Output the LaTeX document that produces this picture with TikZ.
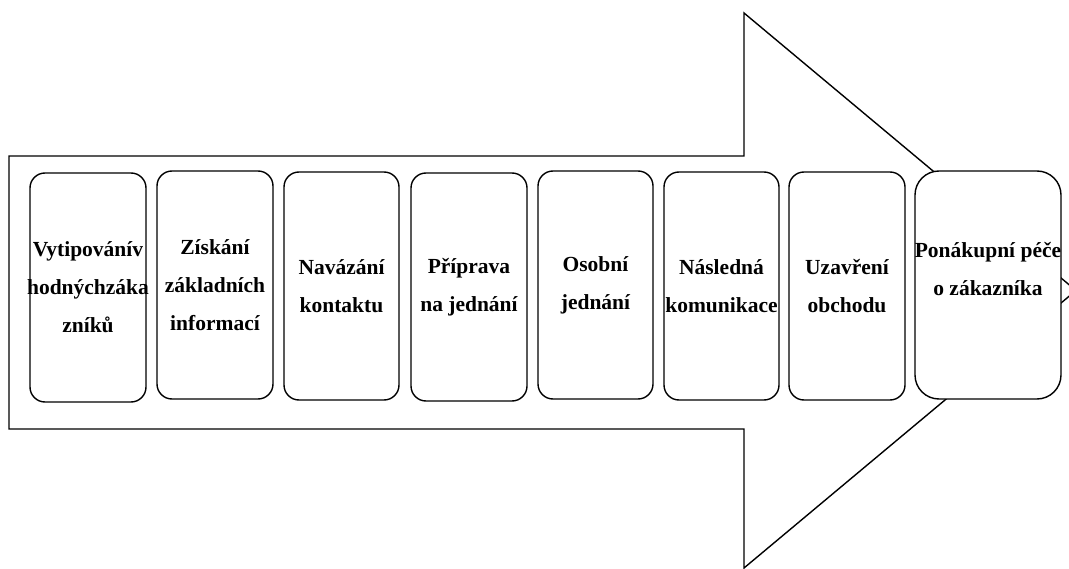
\documentclass[tikz,border=0pt]{standalone}
\usepackage{fontspec}
\setmainfont{Liberation Serif}
\begin{document}
\begin{tikzpicture}[x=1pt,y=-1pt, line width=1.4pt,
  stagebox/.style={draw, fill=white, rounded corners=15pt, minimum width=115pt, minimum height=228pt, inner sep=0pt},
  stagetext/.style={align=center, inner sep=0pt, font=\bfseries\fontsize{21.5}{38}\selectfont}]
\useasboundingbox (0,0) rectangle (1069,569);
\clip (0,0) rectangle (1069,569);
\draw[line join=miter] (9,156) -- (744,156) -- (744,13) -- (1076,290.5) -- (744,568) -- (744,429) -- (9,429) -- cycle;
\node[stagebox, minimum width=116pt, minimum height=229pt] (b1) at (88,287.5) {};
\node[stagebox, minimum width=116pt] (b2) at (215,285) {};
\node[stagebox] (b3) at (341.5,286) {};
\node[stagebox, minimum width=116pt] (b4) at (469,287) {};
\node[stagebox] (b5) at (595.5,285) {};
\node[stagebox] (b6) at (721.5,286) {};
\node[stagebox, minimum width=116pt] (b7) at (847,286) {};
\node[stagebox, minimum width=146pt, rounded corners=24pt] (b8) at (988,285) {};
\node[stagetext] (t1) at (b1.center) {Vytipovánív\\hodnýchzáka\\zníků};
\node[stagetext] (t2) at (b2.center) {Získání\\základních\\informací};
\node[stagetext] (t3) at (b3.center) {Navázání\\kontaktu};
\node[stagetext] (t4) at (b4.center) {Příprava\\na jednání};
\node[stagetext] (t5) at (b5.center) {Osobní\\jednání};
\node[stagetext] (t6) at (b6.center) {Následná\\komunikace};
\node[stagetext] (t7) at (b7.center) {Uzavření\\obchodu};
\node[stagetext] (t8) at ([yshift=16pt]b8.center) {Ponákupní péče\\o zákazníka};
\end{tikzpicture}
\end{document}
